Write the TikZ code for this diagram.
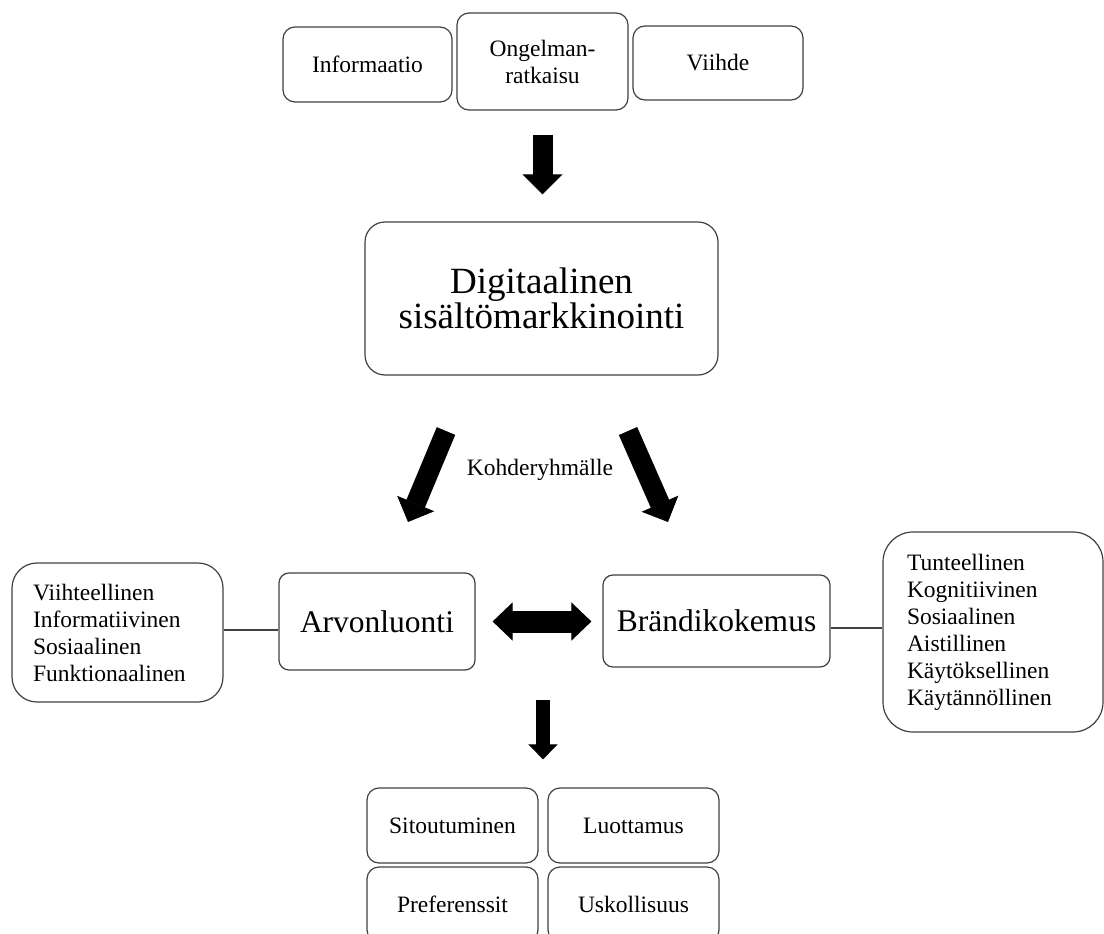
\documentclass[tikz,border=0pt]{standalone}
\usepackage{fontspec}
\setmainfont{Liberation Serif}
\usetikzlibrary{arrows.meta,calc}
\tikzset{
  box/.style={draw=black!75, line width=1.2pt, rounded corners=12pt, inner sep=0pt, align=center, font=\smallfnt},
  bigbox/.style={box, font=\bigfnt},
  listbox/.style={draw=black!75, line width=1.2pt, inner ysep=0pt, align=left, font=\smallfnt},
  link/.style={draw=black!75, line width=1.2pt},
  arrowA/.style={line width=20pt, -{Triangle[length=20pt,width=40pt,line width=1pt]}},
  arrowB/.style={line width=14pt, -{Triangle[length=15pt,width=29pt,line width=1pt]}},
  arrowD/.style={line width=22pt, {Triangle[length=20pt,width=38pt,line width=1pt]}-{Triangle[length=20pt,width=38pt,line width=1pt]}}
}
\newcommand{\smallfnt}{\fontsize{23.5}{27}\selectfont}
\newcommand{\bigfnt}{\fontsize{31.5}{37}\selectfont}
\begin{document}
\begin{tikzpicture}[x=1pt,y=-1pt]
\useasboundingbox (0,0) rectangle (1104,934);
\clip (0,0) rectangle (1104,934);
% top row
\node[box, minimum width=169pt, minimum height=75pt] (info) at (367.5,64.5) {Informaatio};
\node[box, minimum width=171pt, minimum height=97pt] (ong) at (542.5,61.5) {Ongelman-\\ratkaisu};
\node[box, minimum width=170pt, minimum height=74pt] (viih) at (718,63) {Viihde};
% main box
\node[bigbox, rounded corners=20pt, minimum width=353pt, minimum height=153pt, font=\fontsize{37}{35}\selectfont] (dig) at (541.5,298.5) {Digitaalinen\\sisältömarkkinointi};
% label
\node[font=\smallfnt, inner sep=0pt] (kohde) at (540,470) {Kohderyhmälle};
% middle row
\node[bigbox, rounded corners=10pt, minimum width=196pt, minimum height=97pt] (arv) at (377,621.5) {Arvonluonti};
\node[bigbox, rounded corners=10pt, minimum width=227pt, minimum height=92pt] (brand) at (716.5,621) {Brändikokemus};
\node[listbox, rounded corners=25pt, text width=169pt, inner xsep=21pt, minimum height=139pt] (llist) at (117.5,632.5) {Viihteellinen\\Informatiivinen\\Sosiaalinen\\Funktionaalinen};
\node[listbox, rounded corners=30pt, text width=172pt, inner xsep=24pt, minimum height=200pt] (rlist) at (993,632) {Tunteellinen\\Kognitiivinen\\Sosiaalinen\\Aistillinen\\Käytöksellinen\\Käytännöllinen};
% bottom grid
\node[box, minimum width=171pt, minimum height=75pt] (sit) at (452.5,825.5) {Sitoutuminen};
\node[box, minimum width=171pt, minimum height=75pt] (luo) at (633.5,825.5) {Luottamus};
\node[box, minimum width=171pt, minimum height=75pt] (pref) at (452.5,904.5) {Preferenssit};
\node[box, minimum width=171pt, minimum height=75pt] (usk) at (633.5,904.5) {Uskollisuus};
% connectors
\draw[link] ([yshift=2.5pt]llist.east) -- ([yshift=2.5pt]llist.east -| arv.west);
\draw[link] ([yshift=4pt]rlist.west) -- ([yshift=4pt]rlist.west -| brand.east);
% block arrows
\draw[arrowA, shorten <=24pt, shorten >=27pt] (ong.south) -- (ong.south |- dig.north);
\coordinate (dl1) at (446,431);
\coordinate (dl2) at (408,522);
\coordinate (dr1) at (628,431);
\coordinate (dr2) at (668,522);
\draw[arrowA] (dl1) -- (dl2);
\draw[arrowA] (dr1) -- (dr2);
\draw[arrowD, shorten <=17pt, shorten >=11pt] (arv.east) -- (arv.east -| brand.west);
\coordinate (btop) at (543,700);
\draw[arrowB, shorten >=28pt] (btop) -- (btop |- sit.north);
\end{tikzpicture}
\end{document}
